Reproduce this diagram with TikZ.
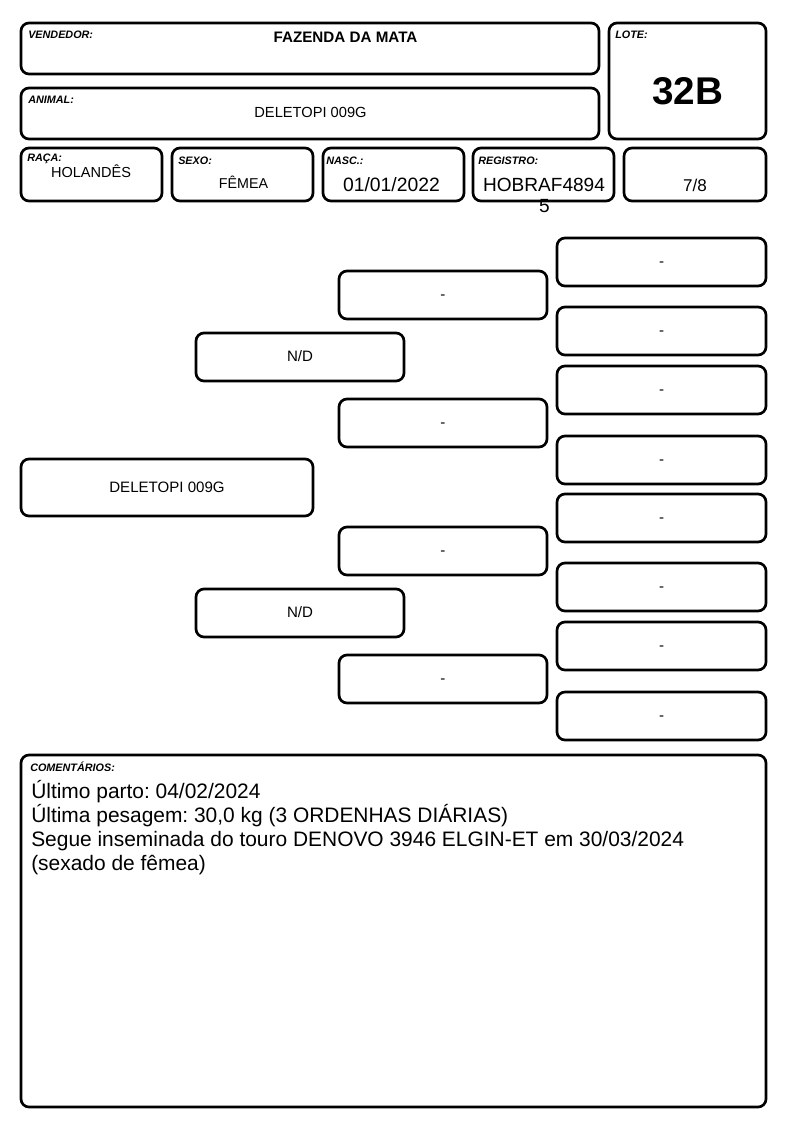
\documentclass[tikz,border=0pt]{standalone}
\usepackage{fontspec}
\setmainfont{Liberation Sans}
\frenchspacing
\tikzset{
	cell/.style 2 args={draw, line width=2pt, rounded corners=6pt, minimum width=#1*0.75pt, minimum height=#2*0.75pt, inner sep=0pt, text height=0.72em, text depth=0pt, font=\fontsize{11.3}{13}\selectfont},
	tag/.style={inner sep=0pt, anchor=base west, font=\fontsize{8.1}{9}\selectfont\bfseries\itshape},
	value/.style={inner sep=0pt, anchor=base}
}

\begin{document}
\begin{tikzpicture}[x=0.75pt, y=-0.75pt]
			%%%%% START %%%%%
			\useasboundingbox[fill=white] (0, 0) rectangle (794, 1123);
			
			% cabecalho
			\node[cell={578}{51}] (vendedor) at (310, 48.5) {};
			\node[cell={578}{51}] (animal) at (310, 113.5) {};
			\node[cell={157}{116}] (lote) at (687.5, 81) {};
			\node[tag] (tvendedor) at (28, 39) {VENDEDOR:};
			\node[tag] (tanimal) at (28, 104) {ANIMAL:};
			\node[tag] (tlote) at (615, 39) {LOTE:};
			\node[value, font=\fontsize{11.4}{13}\selectfont\bfseries] (nvendedor) at (345.5, 43) {FAZENDA DA MATA};
			\node[value, font=\fontsize{11}{13}\selectfont] (nanimal) at (310.5, 118) {DELETOPI 009G};
			\node[value, font=\fontsize{29}{33}\selectfont\bfseries] (nlote) at (687.5, 105) {32B};
			
			\node[cell={141}{53}] (raca) at (91.5, 174.5) {};
			\node[cell={141}{53}] (sexo) at (242.5, 174.5) {};
			\node[cell={141}{53}] (nasc) at (393.5, 174.5) {};
			\node[cell={141}{53}] (registro) at (543.5, 174.5) {};
			\node[cell={142}{53}] (grau) at (695, 174.5) {};
			\node[tag] (traca) at (27, 162) {RAÇA:};
			\node[tag] (tsexo) at (178, 165) {SEXO:};
			\node[tag] (tnasc) at (326, 165) {NASC.:};
			\node[tag] (tregistro) at (478, 165) {REGISTRO:};
			\node[value, font=\fontsize{10.9}{13}\selectfont] (nraca) at (91, 178) {HOLANDÊS};
			\node[value, font=\fontsize{10.7}{13}\selectfont] (nsexo) at (243.5, 189) {FÊMEA};
			\node[value, font=\fontsize{14.5}{17}\selectfont] (nnasc) at (391.5, 192) {01/01/2022};
			\node[value, font=\fontsize{14.3}{17}\selectfont] (nregistro) at (544, 192) {HOBRAF4894};
			\node[value, font=\fontsize{14.3}{17}\selectfont] (nregistrob) at (544.5, 213) {5};
			\node[value, font=\fontsize{12.8}{15}\selectfont] (ngrau) at (695, 192) {7/8};
			
			% genealogia
			\node[cell={292}{57}] (filho) at (167, 487.5) {DELETOPI 009G};
			
			\node[cell={208}{48}] (pai) at (300, 357) {N/D};
			\node[cell={208}{48}] (mae) at (300, 613) {N/D};
			
			\node[cell={208}{48}] (avo1) at (443, 295) {-};
			\node[cell={208}{48}] (avo2) at (443, 423) {-};
			\node[cell={208}{48}] (avo3) at (443, 551) {-};
			\node[cell={208}{48}] (avo4) at (443, 679) {-};
			
			\foreach \y [count=\i] in {262, 331, 390, 460, 518, 587, 646, 716}
				\node[cell={209}{48}] (bisavo\i) at (661.5, \y) {-};
			
			% comentarios
			\node[cell={745}{352}] (comentarios) at (393.5, 931) {};
			\node[tag] (tcomentarios) at (30, 771) {COMENTÁRIOS:};
			\node[inner sep=0pt, anchor=north west, align=left, font=\fontsize{15.7}{18}\selectfont] (ncomentarios) at (31, 780) {Último parto: 04/02/2024\\Última pesagem: 30,0 kg (3 ORDENHAS DIÁRIAS)\\Segue inseminada do touro DENOVO 3946 ELGIN-ET em 30/03/2024\\(sexado de fêmea)};
			
			%%%%% END %%%%%
\end{tikzpicture}
\end{document}
